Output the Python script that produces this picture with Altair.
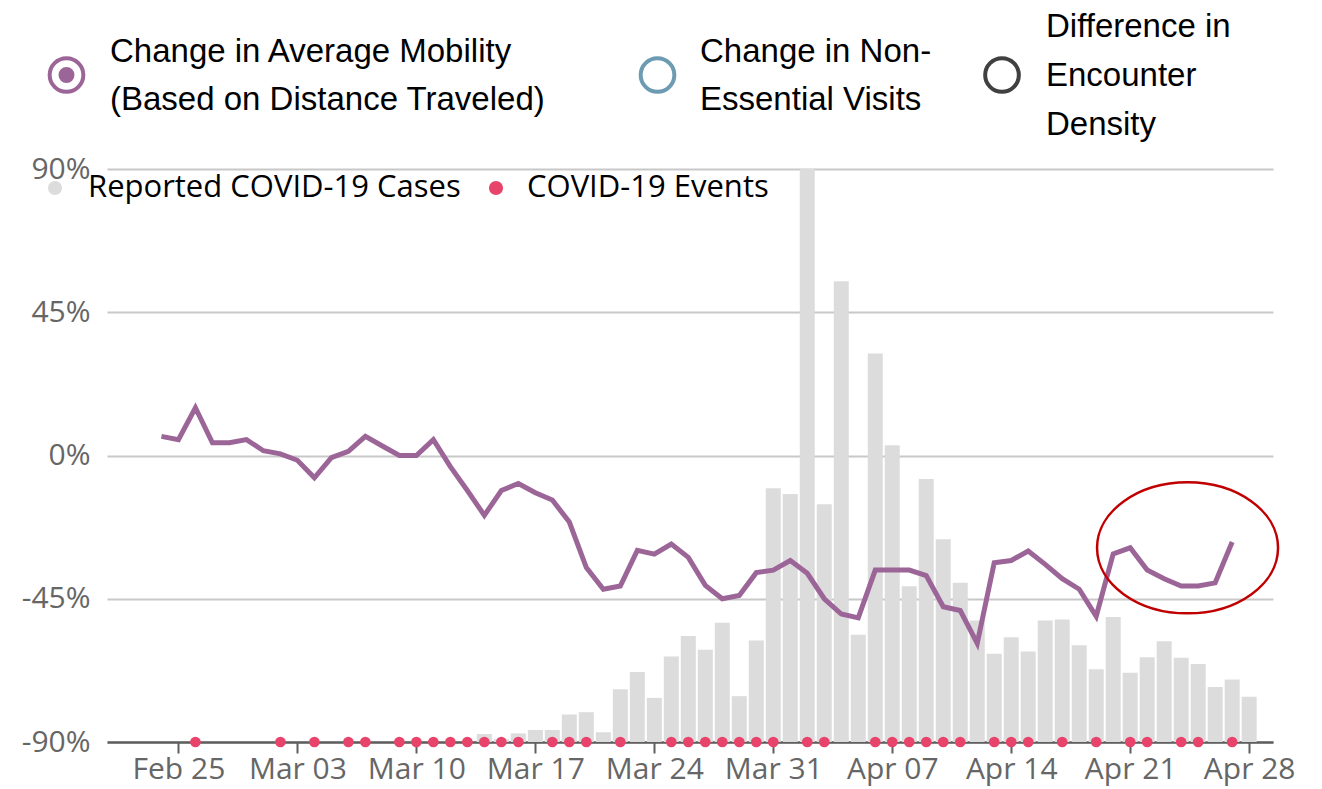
import altair as alt
import pandas as pd

# ---------------- data ----------------
mobility_first_day = "2020-02-24"
mobility_pct = [6, 5, 15, 4, 4, 5, 1.5, 0.5, -1.5, -7,
                -0.7, 1.3, 6, 3, 0, 0, 5, -3.5, -11, -18.8,
                -11, -8.8, -11.7, -14, -20.9, -35.2, -42, -41, -29.8, -31,
                -27.8, -32, -40.8, -45, -44, -36.8, -36, -33, -37, -45,
                -49.8, -51, -36, -36, -36, -37.7, -47.5, -48.7, -59, -33.7,
                -33, -30, -34.2, -38.7, -42, -50.5, -30.9, -29, -36, -38.7,
                -41, -41, -40, -27.2]

cases_first_day = "2020-03-14"
cases_values = [14, 5, 15, 21, 21, 48, 52, 17, 92, 122,
                77, 149, 185, 161, 208, 80, 177, 443, 433, 1000,
                415, 804, 187, 678, 518, 272, 459, 354, 278, 212,
                154, 183, 158, 212, 214, 169, 127, 218, 121, 148,
                176, 147, 136, 96, 109, 79]

event_dates = ["2020-02-26", "2020-03-02", "2020-03-04", "2020-03-06", "2020-03-07",
               "2020-03-09", "2020-03-10", "2020-03-11", "2020-03-12", "2020-03-13",
               "2020-03-14", "2020-03-15", "2020-03-16", "2020-03-18", "2020-03-19",
               "2020-03-20", "2020-03-22", "2020-03-25", "2020-03-26", "2020-03-27",
               "2020-03-28", "2020-03-29", "2020-03-30", "2020-03-31", "2020-04-02",
               "2020-04-03", "2020-04-06", "2020-04-07", "2020-04-08", "2020-04-09",
               "2020-04-10", "2020-04-11", "2020-04-13", "2020-04-14", "2020-04-15",
               "2020-04-17", "2020-04-19", "2020-04-21", "2020-04-22", "2020-04-24",
               "2020-04-25", "2020-04-27"]

x_tick_dates = ["2020-02-25", "2020-03-03", "2020-03-10", "2020-03-17", "2020-03-24",
                "2020-03-31", "2020-04-07", "2020-04-14", "2020-04-21", "2020-04-28"]
y_ticks = [-90, -45, 0, 45, 90]

series_cases = "Reported COVID-19 Cases"
series_events = "COVID-19 Events"
series_colors = ["#dcdcdc", "#e8436b"]

top_legend_labels = ["Change in Average Mobility\n(Based on Distance Traveled)",
                     "Change in Non-\nEssential Visits",
                     "Difference in\nEncounter\nDensity"]
top_legend_colors = ["#9c6597", "#6d9bb1", "#404040"]

annotation_date = ["2020-04-24T09:00:00Z"]
annotation_pct = [-29]

# ---------------- tables ----------------
mob_df = pd.DataFrame({
    "date": pd.date_range(mobility_first_day, periods=len(mobility_pct), freq="D").strftime("%Y-%m-%d"),
    "pct": mobility_pct,
})
cases_df = pd.DataFrame({
    "date": pd.date_range(cases_first_day, periods=len(cases_values), freq="D").strftime("%Y-%m-%d"),
    "cases": cases_values,
    "kind": series_cases,
})
events_df = pd.DataFrame({"date": event_dates, "kind": series_events})
ann_df = pd.DataFrame({"date": annotation_date, "pct": annotation_pct})


def dt(s, hours=0, minutes=0):
    y, m, d = (int(v) for v in s.split("-"))
    return alt.DateTime(year=y, month=m, date=d, hours=hours, minutes=minutes, utc=True)


AXIS_GRAY = "#666666"
x_scale = alt.Scale(type="utc", domain=[dt("2020-02-21", 2, 12), dt("2020-04-29", 2, 36)])
x_axis = alt.Axis(values=[dt(s) for s in x_tick_dates],
                  labelExpr="utcFormat(datum.value, '%b %d')",
                  title=None, grid=False, domainColor="#5f5f5f", domainWidth=2.5,
                  tickColor="#5f5f5f", tickWidth=2, tickSize=11,
                  labelFont="Open Sans", labelFontSize=30, labelColor=AXIS_GRAY,
                  labelPadding=1, zindex=0)
y_scale = alt.Scale(domain=[-90, 90], nice=False, zero=False)
y_axis = alt.Axis(values=y_ticks, labelExpr="datum.value + '%'", title=None,
                  grid=True, gridColor="#c8c8c8", gridWidth=2, domain=False, ticks=False,
                  labelFont="Open Sans", labelFontSize=30, labelColor=AXIS_GRAY,
                  labelPadding=17)

color_scale = alt.Scale(domain=[series_cases, series_events], range=series_colors)

bars = alt.Chart(cases_df).mark_bar(size=15, opacity=1).encode(
    x=alt.X("date:T", scale=x_scale, axis=x_axis),
    y=alt.Y("cases:Q", scale=alt.Scale(domain=[0, 1000], nice=False), axis=None),
    color=alt.Color("kind:N", scale=color_scale, legend=None),
)

line = alt.Chart(mob_df).mark_line(color="#9c6597", strokeWidth=5, strokeJoin="miter").encode(
    x=alt.X("date:T", scale=x_scale, axis=x_axis),
    y=alt.Y("pct:Q", scale=y_scale, axis=y_axis),
)

events = alt.Chart(events_df).mark_circle(size=115, opacity=1).encode(
    x=alt.X("date:T", scale=x_scale),
    y=alt.datum(-90),
    color=alt.Color("kind:N", scale=color_scale, legend=None),
)

ellipse_shape = "M -1 0 A 1 0.724 0 1 1 1 0 A 1 0.724 0 1 1 -1 0 Z"
ellipse = alt.Chart(ann_df).mark_point(shape=ellipse_shape, size=32761, filled=False,
                                       stroke="#c00000", strokeWidth=2.5, opacity=1).encode(
    x=alt.X("date:T", scale=x_scale),
    y=alt.Y("pct:Q", scale=y_scale),
)

pct_layers = alt.layer(line, events, ellipse)

legend_layers = []

# top legend (series selector)
ring_x = [-40.5, 550.5, 895]
text_x = [3, 593, 939]
text_y = [-117, -117, -142]
line_heights = [48, 48, 49]
for i, (lab, col) in enumerate(zip(top_legend_labels, top_legend_colors)):
    base = alt.Chart(pd.DataFrame({"label": [lab]}))
    legend_layers.append(base.mark_point(shape="circle", filled=False, size=1134, strokeWidth=4,
                                         color=col, opacity=1).encode(
        x=alt.value(ring_x[i]), y=alt.value(-94)))
    if i == 0:
        legend_layers.append(base.mark_point(shape="circle", filled=True, size=254,
                                             color=col, opacity=1).encode(
            x=alt.value(ring_x[i]), y=alt.value(-94)))
    legend_layers.append(base.mark_text(align="left", baseline="middle", font="Liberation Sans",
                                        fontSize=33, lineBreak="\n", lineHeight=line_heights[i],
                                        color="black").encode(
        x=alt.value(text_x[i]), y=alt.value(text_y[i]), text="label:N"))

# inner legend (cases / events)
dot_x = [-52, 389]
label_x = [-19, 420]
for i, (lab, col) in enumerate(zip([series_cases, series_events], series_colors)):
    base = alt.Chart(pd.DataFrame({"label": [lab]}))
    legend_layers.append(base.mark_point(shape="circle", filled=True, size=201,
                                         color=col, opacity=1).encode(
        x=alt.value(dot_x[i]), y=alt.value(19)))
    legend_layers.append(base.mark_text(align="left", baseline="middle", font="Open Sans",
                                        fontSize=31, color="black").encode(
        x=alt.value(label_x[i]), y=alt.value(19), text="label:N"))

chart = alt.layer(bars, pct_layers, *legend_layers).resolve_scale(y="independent").properties(
    width=1166, height=573,
    autosize=alt.AutoSizeParams(type="none"),
    padding={"left": 99, "top": 161, "right": 41, "bottom": 50},
).configure_view(stroke=None)

chart.save("out.html", embed_options={"renderer": "svg", "actions": False})
